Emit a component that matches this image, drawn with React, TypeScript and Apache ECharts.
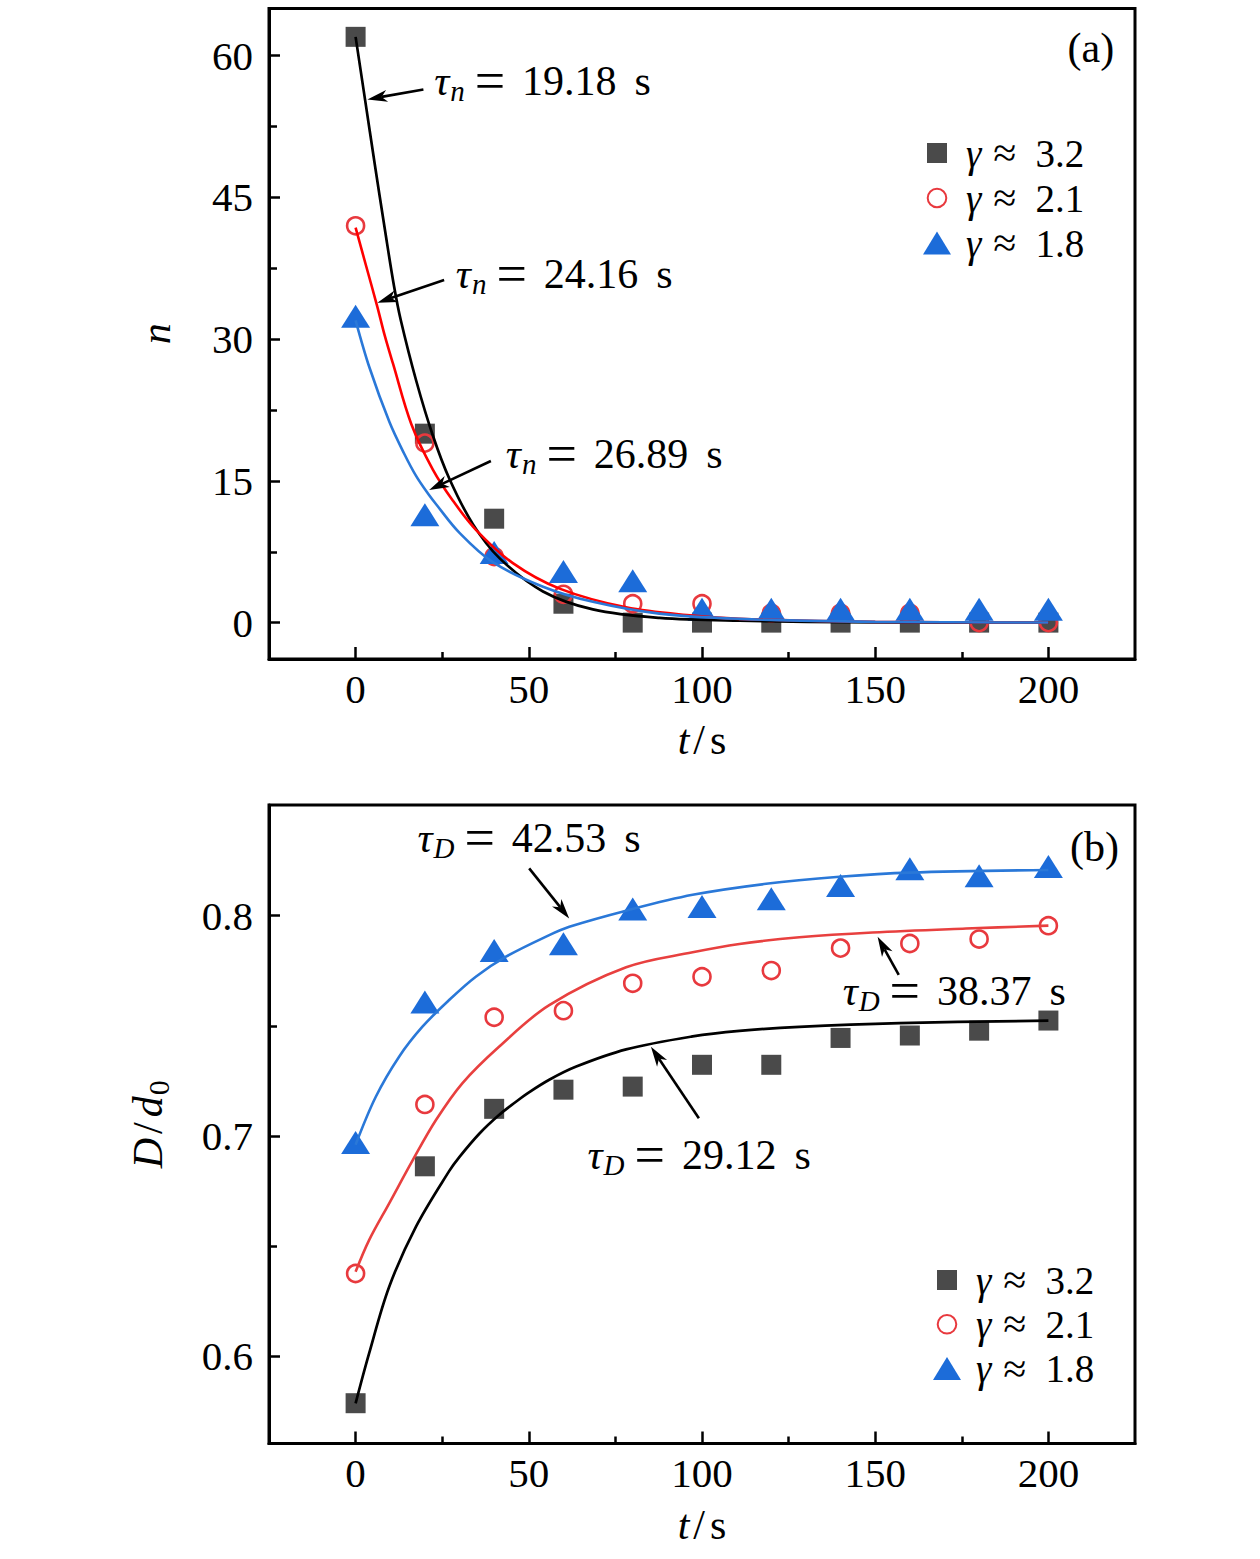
import React, { useEffect, useRef } from 'react';
import * as echarts from 'echarts';

const F = "'Liberation Serif', 'Times New Roman', serif";

// ---------- shared ----------
const T = [0, 20, 40, 60, 80, 100, 120, 140, 160, 180, 200];
const NAMES = ['γ ≈ 3.2', 'γ ≈ 2.1', 'γ ≈ 1.8'];
const X_MAJOR = [0, 50, 100, 150, 200];
const X_MINOR = [25, 75, 125, 175];

// ---------- panel (a): n vs t ----------
const N_G32 = [62, 20, 11, 2, 0, 0, 0, 0, 0, 0, 0];
const N_G21 = [42, 19, 7, 3, 2, 2, 1, 1, 1, 0, 0];
const N_G18 = [32, 11, 7, 5, 4, 1, 1, 1, 1, 1, 1];

const FIT_A32_T = [0, 2.75, 5.5, 8.5, 11.1, 13.05, 17.5, 22.3, 27.1, 33.9, 41.6, 54.1, 68.5, 87.7, 110.8, 150, 200];
const FIT_A32_N = [62.0, 55.3, 48.6, 41.5, 35.6, 32.0, 25.6, 19.8, 15.2, 10.4, 6.8, 3.3, 1.4, 0.5, 0.2, 0.03, 0.0];
const FIT_A21_T = [0, 3, 6.3, 8.4, 10.8, 16.1, 22.3, 28.1, 34.8, 45.4, 58.9, 78.1, 97.3, 110.8, 150, 200];
const FIT_A21_N = [41.8, 37.8, 33.4, 30.4, 27.4, 21.0, 16.2, 12.9, 9.8, 6.3, 3.6, 1.62, 0.74, 0.4, 0.08, 0.01];
const FIT_A18_T = [0, 4, 9.8, 14, 17.5, 21.2, 23.3, 30, 39.6, 54.1, 68.5, 87.7, 110.8, 150, 200];
const FIT_A18_N = [32.0, 27.0, 21.2, 17.9, 15.5, 13.5, 12.5, 9.5, 6.4, 3.8, 2.2, 0.95, 0.4, 0.08, 0.01];

const Y_A_MAJOR = [0, 15, 30, 45, 60];
const Y_A_MINOR = [7.5, 22.5, 37.5, 52.5];

// ---------- panel (b): D/d0 vs t ----------
const D_G32 = [0.5786, 0.6862, 0.7123, 0.721, 0.7224, 0.7323, 0.7323, 0.7445, 0.7456, 0.7478, 0.7524];
const D_G21 = [0.6375, 0.7143, 0.7539, 0.7569, 0.7693, 0.7723, 0.7751, 0.7853, 0.7874, 0.7894, 0.7955];
const D_G18 = [0.6952, 0.759, 0.7824, 0.7855, 0.8013, 0.8024, 0.8059, 0.8119, 0.8195, 0.8164, 0.8205];

const FIT_B32_T = [0, 3.9, 9.7, 17.4, 27, 30, 35.7, 41.4, 46.3, 49.3, 55.9, 63.7, 78.1, 97.3, 110.8, 128.1, 157, 200];
const FIT_B32_D = [0.5785, 0.6012, 0.6315, 0.6587, 0.684, 0.6905, 0.701, 0.7095, 0.7155, 0.719, 0.7255, 0.7315, 0.7393, 0.7452, 0.7477, 0.7495, 0.7512, 0.7524];
const FIT_B21_T = [0, 3.9, 9.7, 16.5, 23.2, 30.8, 41.4, 55.9, 78.1, 97.3, 110.8, 128.1, 149.2, 176.2, 200];
const FIT_B21_D = [0.6383, 0.6527, 0.6694, 0.689, 0.7072, 0.7239, 0.7405, 0.7594, 0.7766, 0.7834, 0.7872, 0.7902, 0.7924, 0.7942, 0.7955];
const FIT_B18_T = [0, 5.83, 12.56, 19.3, 27, 34.7, 43.4, 55.9, 61.7, 78.1, 97.3, 118.5, 139.7, 159.9, 200];
const FIT_B18_D = [0.696, 0.7178, 0.736, 0.7496, 0.7617, 0.7723, 0.7814, 0.7912, 0.795, 0.8023, 0.8095, 0.8145, 0.8177, 0.8196, 0.8208];

const Y_B_MAJOR = [0.6, 0.7, 0.8];
const Y_B_MINOR = [0.65, 0.75];

// ---------- annotations (data coordinates) ----------
const TAU_A = ['19.18', '24.16', '26.89'];
const TAU_A_AT = [[22.67, 57.31], [28.94, 36.89], [43.38, 17.8]];
const ARROW_A = [
  [[19.58, 56.43], [3.41, 55.38]],
  [[25.56, 36.26], [6.3, 33.86]],
  [[39.05, 17.11], [21.23, 14.04]],
];
const TAU_B = ['42.53', '38.37', '29.12'];
const TAU_B_AT = [[17.85, 0.8355], [140.6, 0.7658], [66.95, 0.6913]];
const ARROW_B = [
  [[50.11, 0.8215], [61.66, 0.7988]],
  [[156.8, 0.7731], [150.7, 0.7905]],
  [[99.1, 0.708], [85.26, 0.7405]],
];
const PANEL_TAG_AT = [[219, 60.8], [220.4, 0.8312]];

const zip = (xs: number[], ys: number[]) => xs.map((x, i) => [x, ys[i]]);

const C_SQ = '#4a4a4a';
const C_CI = '#e8393e';
const C_TR = '#1c6cd9';

const FS = 41;

// legend icons (keep-aspect paths, padded to a 23x23 box with empty sub-paths)
const ICON_SQ = 'path://M0,0ZM1.5,1.5L21.5,1.5L21.5,21.5L1.5,21.5ZM23,23Z';
const ICON_CI = 'path://M0,0ZM20.8,11.5A9.3,9.3,0,1,1,2.2,11.5A9.3,9.3,0,1,1,20.8,11.5ZM23,23Z';
const ICON_TR = 'path://M14,0L28,23L0,23Z';

const NAME_RICH = {
  it: { fontFamily: F, fontSize: 42, fontStyle: 'italic', color: '#000' },
  rm: { fontFamily: F, fontSize: 42, color: '#000' },
  sl: { fontFamily: F, fontSize: 42, color: '#000', padding: [0, 5, 0, 4] },
  sub: { fontFamily: F, fontSize: 30, color: '#000', padding: [20, 0, 0, 1] },
};

function mainX(gi: number) {
  return {
    type: 'value', gridIndex: gi, min: -25, max: 225, position: 'bottom',
    name: '{it|t}{sl|/}{rm|s}', nameLocation: 'middle', nameGap: 60,
    nameTextStyle: { rich: NAME_RICH },
    axisLine: { show: true, onZero: false, lineStyle: { color: '#000', width: 3 } },
    axisTick: { show: true, inside: true, length: 12, lineStyle: { color: '#000', width: 2.5 }, customValues: X_MAJOR },
    axisLabel: { show: true, customValues: X_MAJOR, margin: 9, fontSize: FS, color: '#000', fontFamily: F },
    splitLine: { show: false },
  };
}
function minorX(gi: number) {
  return {
    type: 'value', gridIndex: gi, min: -25, max: 225, position: 'bottom',
    axisLine: { show: false, onZero: false },
    axisTick: { show: true, inside: true, length: 7, lineStyle: { color: '#000', width: 2.5 }, customValues: X_MINOR },
    axisLabel: { show: false },
    splitLine: { show: false },
  };
}
function mainY(gi: number, min: number, max: number, major: number[], name: string, gap: number) {
  return {
    type: 'value', gridIndex: gi, min, max, position: 'left',
    name, nameLocation: 'middle', nameGap: gap, nameRotate: 90,
    nameTextStyle: { rich: NAME_RICH },
    axisLine: { show: true, onZero: false, lineStyle: { color: '#000', width: 3 } },
    axisTick: { show: true, inside: true, length: 11, lineStyle: { color: '#000', width: 2.5 }, customValues: major },
    axisLabel: { show: true, customValues: major, margin: 16, fontSize: FS, color: '#000', fontFamily: F },
    splitLine: { show: false },
  };
}
function minorY(gi: number, min: number, max: number, minor: number[]) {
  return {
    type: 'value', gridIndex: gi, min, max, position: 'left',
    axisLine: { show: false, onZero: false },
    axisTick: { show: true, inside: true, length: 8, lineStyle: { color: '#000', width: 2.5 }, customValues: minor },
    axisLabel: { show: false },
    splitLine: { show: false },
  };
}

function scatterSeries(p: number, vals: number[][]) {
  const ax = { xAxisIndex: p * 2, yAxisIndex: p * 2 };
  return [
    { ...ax, type: 'scatter', name: NAMES[0], data: zip(T, vals[0]), symbol: 'rect', symbolSize: 20,
      itemStyle: { color: C_SQ, opacity: 1 }, z: 2 },
    { ...ax, type: 'scatter', name: NAMES[1], data: zip(T, vals[1]), symbol: 'circle', symbolSize: 17,
      itemStyle: { color: 'rgba(255,255,255,0)', borderColor: C_CI, borderWidth: 2.6, opacity: 1 }, z: 2 },
    { ...ax, type: 'scatter', name: NAMES[2], data: zip(T, vals[2]), symbol: 'triangle', symbolSize: [29, 23],
      symbolOffset: [0, -4], itemStyle: { color: C_TR, opacity: 1 }, z: 2 },
  ];
}
function fitSeries(p: number, name: string, pts: number[][], color: string, width: number) {
  return {
    type: 'line', name, xAxisIndex: p * 2, yAxisIndex: p * 2, data: pts,
    showSymbol: false, symbol: 'none', smooth: 0.35,
    lineStyle: { color, width }, itemStyle: { color }, z: 5, silent: true,
  };
}

function legendOpt(left: number, top: number, gap: number) {
  return {
    data: [
      { name: NAMES[0], icon: ICON_SQ },
      { name: NAMES[1], icon: ICON_CI },
      { name: NAMES[2], icon: ICON_TR },
    ],
    left, top, orient: 'vertical', itemWidth: 30, itemHeight: 23, itemGap: gap,
    padding: 0, selectedMode: false, symbolKeepAspect: true,
    formatter: (name: string) => `{g|γ}{ap|≈}{v|${name.split('≈ ')[1]}}`,
    textStyle: {
      fontFamily: F, fontSize: 39, color: '#000',
      rich: {
        g: { fontFamily: F, fontSize: 39, fontStyle: 'italic', color: '#000', padding: [0, 0, 0, 9] },
        ap: { fontFamily: F, fontSize: 42, color: '#000', padding: [0, 19, 0, 12] },
        v: { fontFamily: F, fontSize: 39, color: '#000' },
      },
    },
  };
}

const TXT_RICH = {
  t: { fontFamily: F, fontSize: 42, fontStyle: 'italic', fill: '#000', color: '#000' },
  sub: { fontFamily: F, fontSize: 29, fontStyle: 'italic', fill: '#000', color: '#000', padding: [20, 0, 0, 1] },
  eq: { fontFamily: F, fontSize: 54, fill: '#000', color: '#000', padding: [0, 17, 0, 10] },
  num: { fontFamily: F, fontSize: 42, fill: '#000', color: '#000' },
  s: { fontFamily: F, fontSize: 42, fill: '#000', color: '#000', padding: [0, 0, 0, 18] },
};

function textEl(x: number, y: number, text: string, align: string) {
  return {
    type: 'text', x, y, silent: true, z: 10,
    style: {
      text, rich: TXT_RICH, fill: '#000', fontFamily: F, fontSize: 42,
      align, verticalAlign: 'middle', textAlign: align, textVerticalAlign: 'middle',
    },
  };
}

function arrowEls(p0: number[], p1: number[]) {
  const dx = p1[0] - p0[0];
  const dy = p1[1] - p0[1];
  const len = Math.sqrt(dx * dx + dy * dy) || 1;
  const ux = dx / len, uy = dy / len;
  const nx = -uy, ny = ux;
  const L = 20, W = 6;
  const bx = p1[0] - ux * L, by = p1[1] - uy * L;
  const mx = p1[0] - ux * L * 0.72, my = p1[1] - uy * L * 0.72;
  return [
    { type: 'line', silent: true, z: 10, shape: { x1: p0[0], y1: p0[1], x2: mx, y2: my },
      style: { stroke: '#000', lineWidth: 2.6 } },
    { type: 'polygon', silent: true, z: 10,
      shape: { points: [[p1[0], p1[1]], [bx + nx * W, by + ny * W], [mx, my], [bx - nx * W, by - ny * W]] },
      style: { fill: '#000' } },
  ];
}

export default function App() {
  const ref = useRef<HTMLDivElement>(null);
  useEffect(() => {
    document.body.style.margin = '0';
    if (!ref.current) return;
    const chart = echarts.init(ref.current, undefined, { renderer: 'svg' });
    const option: any = {
      animation: false,
      backgroundColor: '#fff',
      textStyle: { fontFamily: F },
      grid: [
        { left: 269, top: 8.5, width: 866, height: 650.5, show: true, borderColor: '#000', borderWidth: 3, backgroundColor: 'transparent' },
        { left: 269, top: 805, width: 866, height: 638.5, show: true, borderColor: '#000', borderWidth: 3, backgroundColor: 'transparent' },
      ],
      xAxis: [mainX(0), minorX(0), mainX(1), minorX(1)],
      yAxis: [
        mainY(0, -3.85, 65, Y_A_MAJOR, '{it|n}', 92),
        minorY(0, -3.85, 65, Y_A_MINOR),
        mainY(1, 0.5603, 0.8503, Y_B_MAJOR, '{it|D}{sl|/}{it|d}{sub|0}', 96),
        minorY(1, 0.5603, 0.8503, Y_B_MINOR),
      ],
      legend: [legendOpt(923, 132, 3), legendOpt(933, 1259, 2.3)],
      series: [
        ...scatterSeries(0, [N_G32, N_G21, N_G18]),
        fitSeries(0, 'fit-a-3.2', zip(FIT_A32_T, FIT_A32_N), '#000000', 2.7),
        fitSeries(0, 'fit-a-2.1', zip(FIT_A21_T, FIT_A21_N), '#ff0000', 2.6),
        fitSeries(0, 'fit-a-1.8', zip(FIT_A18_T, FIT_A18_N), '#2a78d8', 2.6),
        ...scatterSeries(1, [D_G32, D_G21, D_G18]),
        fitSeries(1, 'fit-b-3.2', zip(FIT_B32_T, FIT_B32_D), '#000000', 2.7),
        fitSeries(1, 'fit-b-2.1', zip(FIT_B21_T, FIT_B21_D), '#e8403f', 2.6),
        fitSeries(1, 'fit-b-1.8', zip(FIT_B18_T, FIT_B18_D), '#2a78d8', 2.6),
      ],
    };
    chart.setOption(option);

    const px = (p: number, v: number[]) =>
      chart.convertToPixel({ xAxisIndex: p * 2, yAxisIndex: p * 2 } as any, v) as number[];
    const els: any[] = [];
    TAU_A.forEach((tau, i) => {
      const q = px(0, TAU_A_AT[i]);
      els.push(textEl(q[0], q[1], `{t|τ}{sub|n}{eq|=}{num|${tau}}{s|s}`, 'left'));
      els.push(...arrowEls(px(0, ARROW_A[i][0]), px(0, ARROW_A[i][1])));
    });
    TAU_B.forEach((tau, i) => {
      const q = px(1, TAU_B_AT[i]);
      els.push(textEl(q[0], q[1], `{t|τ}{sub|D}{eq|=}{num|${tau}}{s|s}`, 'left'));
      els.push(...arrowEls(px(1, ARROW_B[i][0]), px(1, ARROW_B[i][1])));
    });
    const qa = px(0, PANEL_TAG_AT[0]);
    els.push(textEl(qa[0], qa[1], '{num|(a)}', 'right'));
    const qb = px(1, PANEL_TAG_AT[1]);
    els.push(textEl(qb[0], qb[1], '{num|(b)}', 'right'));
    chart.setOption({ graphic: els });

    return () => chart.dispose();
  }, []);
  return <div ref={ref} style={{ width: 1260, height: 1559 }} />;
}
